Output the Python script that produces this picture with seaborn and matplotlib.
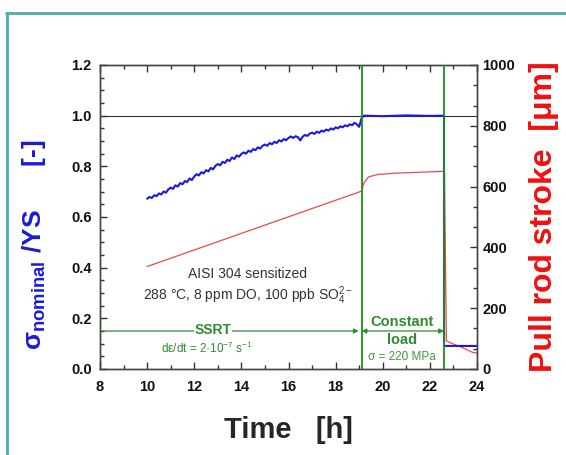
import numpy as np
import pandas as pd
import seaborn as sns
import matplotlib.pyplot as plt
from matplotlib.ticker import MultipleLocator, AutoMinorLocator
from matplotlib.lines import Line2D

# Datos
t_blue = [10.0, 10.1, 10.2, 10.3, 10.4, 10.5, 10.6, 10.7, 10.8, 10.9,
          11.0, 11.1, 11.2, 11.3, 11.4, 11.5, 11.6, 11.7, 11.8, 11.9,
          12.0, 12.1, 12.2, 12.3, 12.4, 12.5, 12.6, 12.7, 12.8, 12.9,
          13.0, 13.1, 13.2, 13.3, 13.4, 13.5, 13.6, 13.7, 13.8, 13.9,
          14.0, 14.1, 14.2, 14.3, 14.4, 14.5, 14.6, 14.7, 14.8, 14.9,
          15.0, 15.1, 15.2, 15.3, 15.4, 15.5, 15.6, 15.7, 15.8, 15.9,
          16.0, 16.1, 16.2, 16.3, 16.4, 16.5, 16.6, 16.7, 16.8, 16.9,
          17.0, 17.1, 17.2, 17.3, 17.4, 17.5, 17.6, 17.7, 17.8, 17.9,
          18.0, 18.1, 18.2, 18.3, 18.4, 18.5, 18.6, 18.7, 18.8, 18.9,
          19.0, 19.1, 19.2, 20.0, 21.0, 22.0, 22.6, 22.6, 24.0]
s_blue = [0.672, 0.679, 0.675, 0.686, 0.682, 0.693, 0.689, 0.701, 0.696, 0.709,
          0.716, 0.711, 0.725, 0.720, 0.734, 0.729, 0.742, 0.738, 0.752, 0.746,
          0.760, 0.769, 0.764, 0.777, 0.772, 0.785, 0.780, 0.794, 0.788, 0.802,
          0.809, 0.804, 0.818, 0.813, 0.826, 0.821, 0.835, 0.829, 0.843, 0.838,
          0.849, 0.855, 0.850, 0.862, 0.857, 0.868, 0.864, 0.875, 0.870, 0.881,
          0.886, 0.881, 0.892, 0.887, 0.897, 0.892, 0.903, 0.898, 0.908, 0.903,
          0.912, 0.918, 0.912, 0.919, 0.915, 0.902, 0.917, 0.924, 0.920, 0.929,
          0.933, 0.928, 0.937, 0.932, 0.941, 0.937, 0.945, 0.941, 0.950, 0.945,
          0.954, 0.950, 0.958, 0.954, 0.962, 0.958, 0.966, 0.962, 0.972, 0.966,
          0.956, 0.990, 1.000, 0.998, 1.001, 0.999, 1.000, 0.091, 0.091]

t_red = [10.0, 19.1, 19.2, 19.4, 19.8, 20.5, 21.5, 22.55, 22.62, 22.7, 23.0, 23.4, 23.8, 24.0]
stroke_red = [337, 585, 612, 632, 640, 644, 647, 650, 645, 92, 82, 70, 55, 52]

t_cambio = [19.1, 22.6]  # inicio / fin carga constante

df_b = pd.DataFrame({'t': t_blue, 's': s_blue})
df_r = pd.DataFrame({'t': t_red, 'u': stroke_red})

sns.set_theme(style="ticks")
plt.rcParams['font.family'] = ['Liberation Sans', 'DejaVu Sans']
plt.rcParams['mathtext.default'] = 'regular'

verde = '#2e8b2e'

fig = plt.figure(figsize=(5.66, 4.55), dpi=100)
ax = fig.add_axes([100/566, 1 - 369/455, 377/566, 304/455])
ax2 = ax.twinx()

# marco verde azulado
fig.add_artist(Line2D([6/566, 1.0], [1 - 13/455, 1 - 13/455], transform=fig.transFigure, color='#4aaea4', lw=2))
fig.add_artist(Line2D([7/566, 7/566], [0, 1 - 13/455], transform=fig.transFigure, color='#4aaea4', lw=2))

ax.axhline(1.0, color='#333333', lw=0.8, zorder=1)
for tc in t_cambio:
    ax.axvline(tc, color='#1f8f1f', lw=1.3, zorder=3)

sns.lineplot(data=df_r, x='t', y='u', ax=ax2, sort=False, estimator=None, color='#e84a4a', lw=0.9)
sns.lineplot(data=df_b, x='t', y='s', ax=ax, sort=False, estimator=None, color='#1a1adc', lw=1.5)
ax.set_zorder(ax2.get_zorder() + 1)
ax.patch.set_visible(False)

# flechas de las etapas
ax.annotate('', xy=(t_cambio[0], 0.15), xytext=(8, 0.15),
            arrowprops=dict(arrowstyle='-|>', color=verde, lw=0.9, mutation_scale=7))
ax.annotate('', xy=(t_cambio[1], 0.15), xytext=(t_cambio[0], 0.15),
            arrowprops=dict(arrowstyle='<|-|>', color=verde, lw=0.9, mutation_scale=7, shrinkA=0, shrinkB=0))

ax.text(14.28, 0.375, 'AISI 304 sensitized', ha='center', va='center', fontsize=10, color='#333333')
ax.text(14.28, 0.29, '288 °C, 8 ppm DO, 100 ppb SO$_4^{2-}$', ha='center', va='center', fontsize=10, color='#333333')
ax.text(12.8, 0.153, 'SSRT', ha='center', va='center', fontsize=10, fontweight='bold', color=verde,
        bbox=dict(facecolor='white', edgecolor='none', pad=0.5))
ax.text(12.55, 0.083, 'dε/dt = 2·10$^{-7}$ s$^{-1}$', ha='center', va='center', fontsize=8.5, color=verde)
ax.text(20.82, 0.186, 'Constant', ha='center', va='center', fontsize=10.5, fontweight='bold', color=verde)
ax.text(20.82, 0.115, 'load', ha='center', va='center', fontsize=10.5, fontweight='bold', color=verde)
ax.text(20.82, 0.047, 'σ = 220 MPa', ha='center', va='center', fontsize=8.5, color='#3c9a3c')

ax.set_xlim(8, 24)
ax.set_ylim(0, 1.2)
ax2.set_ylim(0, 1000)
ax.xaxis.set_major_locator(MultipleLocator(2))
ax.xaxis.set_minor_locator(MultipleLocator(1))
ax.yaxis.set_major_locator(MultipleLocator(0.2))
ax.yaxis.set_minor_locator(MultipleLocator(0.05))
ax.yaxis.set_major_formatter('{x:.1f}')
ax2.yaxis.set_major_locator(MultipleLocator(200))
ax2.yaxis.set_minor_locator(AutoMinorLocator(3))

ax.tick_params(which='both', direction='in', top=True, right=False, color='#333333', width=1)
ax.tick_params(which='major', length=5, labelsize=10.5)
ax.tick_params(axis='x', which='major', pad=8)
ax.tick_params(axis='y', which='major', pad=6)
ax.tick_params(which='minor', length=3)
ax2.tick_params(which='both', direction='in', color='#333333', width=1)
ax2.tick_params(which='major', length=5, labelsize=10.5, pad=4)
ax2.tick_params(which='minor', length=3)
for lab in ax.get_xticklabels() + ax.get_yticklabels() + ax2.get_yticklabels():
    lab.set_fontweight('bold')
    lab.set_color('#111111')
for a in (ax, ax2):
    for sp in a.spines.values():
        sp.set_color('#444444')
        sp.set_linewidth(1)

ax.set_xlabel('Time   [h]', fontsize=21, fontweight='bold', labelpad=16)
ax.set_ylabel('σ$_{nominal}$ /YS      [-]', fontsize=19, fontweight='bold', color='#1a1adc', va='center')
ax.yaxis.set_label_coords(-0.175, 0.41)
ax2.set_ylabel('Pull rod stroke  [μm]', fontsize=23, fontweight='bold', color='#ee1111', labelpad=10)

plt.savefig('out.png', dpi=100)
